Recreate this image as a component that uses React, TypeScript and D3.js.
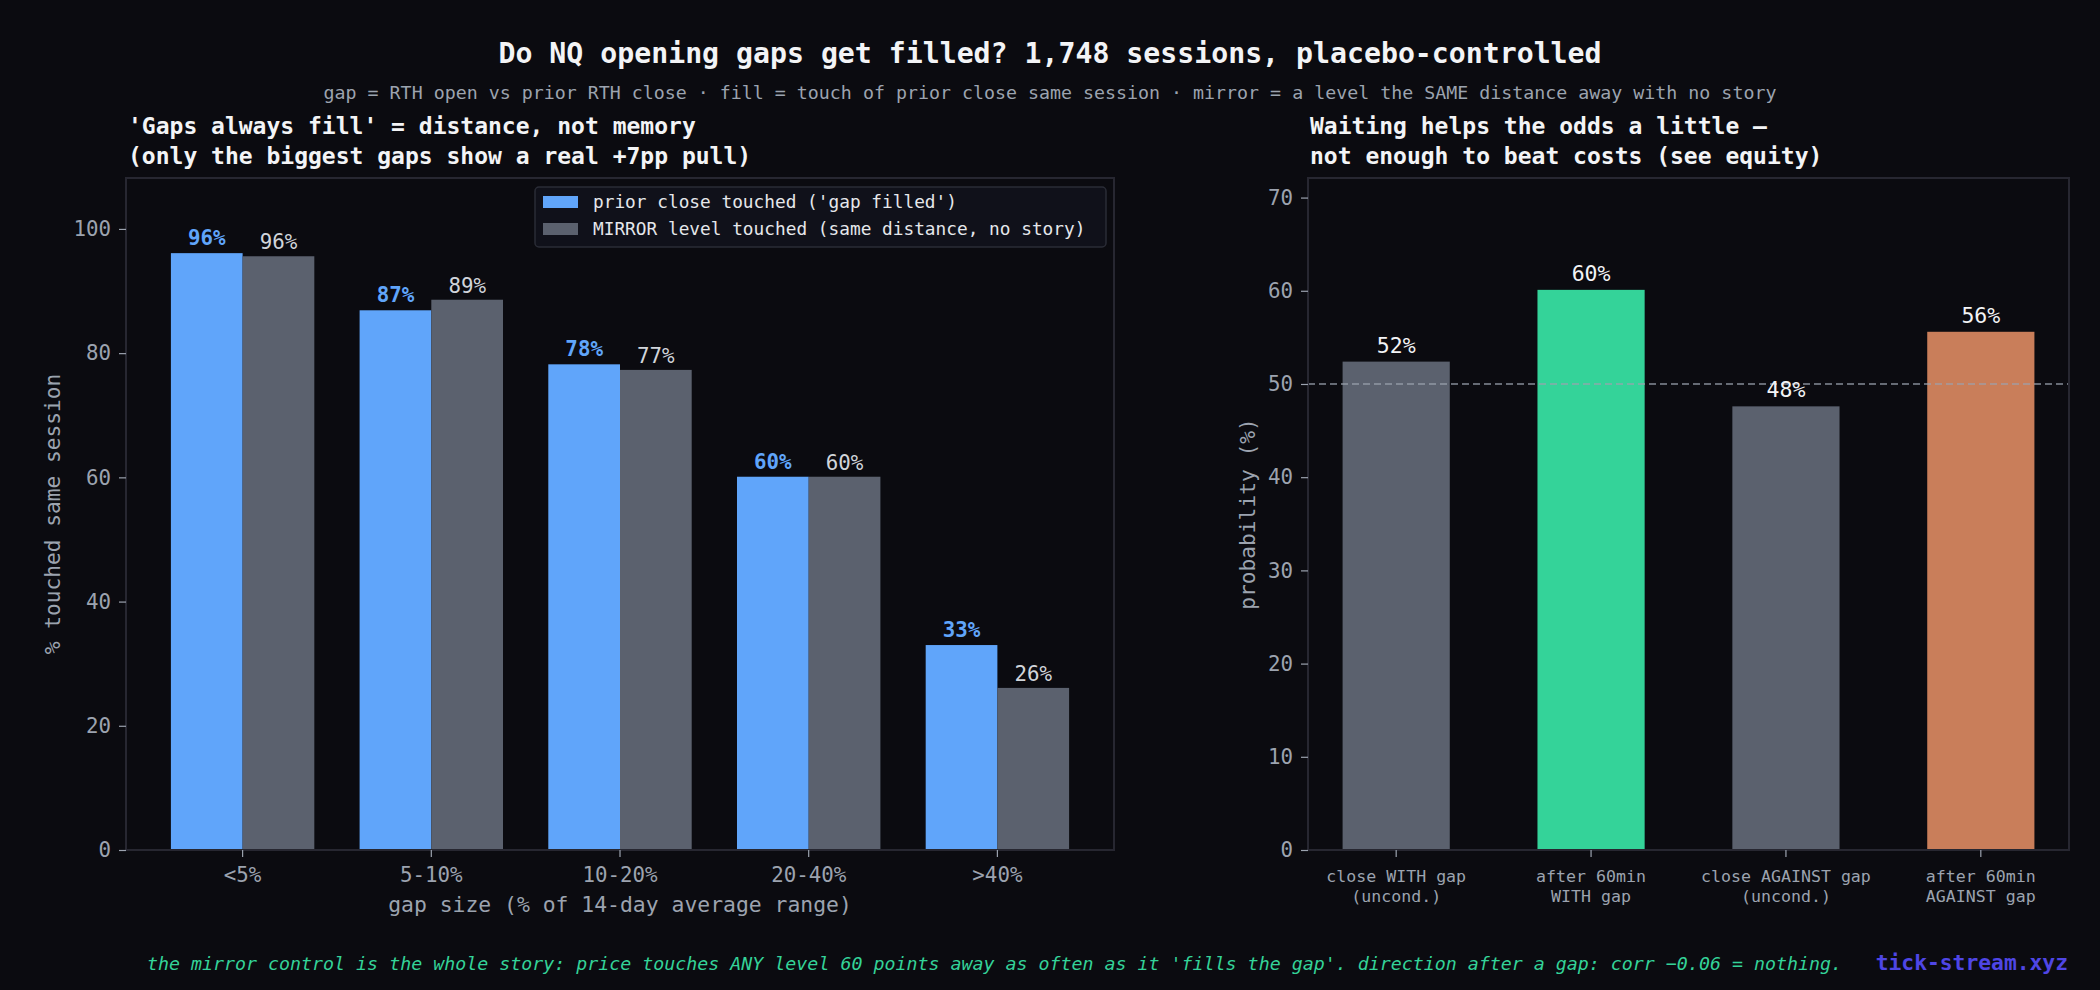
import { useEffect, useRef } from 'react';
import * as d3 from 'd3';

const gapBuckets = ['<5%', '5-10%', '10-20%', '20-40%', '>40%'];
const priorClose = [96.1, 86.9, 78.2, 60.1, 33.0];
const mirrorLevel = [95.6, 88.6, 77.3, 60.1, 26.1];
const leftTicks = [0, 20, 40, 60, 80, 100];

const dirLabels = [
  ['close WITH gap', '(uncond.)'],
  ['after 60min', 'WITH gap'],
  ['close AGAINST gap', '(uncond.)'],
  ['after 60min', 'AGAINST gap'],
];
const dirValues = [52.4, 60.1, 47.6, 55.6];
const dirColors = ['#5b616e', '#34d399', '#5b616e', '#c97e5a'];
const rightTicks = [0, 10, 20, 30, 40, 50, 60, 70];

const FONT = "'DejaVu Sans Mono', monospace";
const BG = '#0b0b10';
const BLUE = '#60a5fa';
const GRAY = '#5b616e';
const SPINE = '#272731';
const TICK = '#9ca3af';

export default function App() {
  const svgRef = useRef<SVGSVGElement>(null);

  useEffect(() => {
    document.body.style.margin = '0';
    document.body.style.background = BG;

    const width = 2100;
    const height = 990;
    const svg = d3.select(svgRef.current);
    svg.selectAll('*').remove();
    svg.attr('font-family', FONT);

    svg.append('rect').attr('width', width).attr('height', height).attr('fill', BG);

    // figure titles
    svg
      .append('text')
      .attr('x', 1050)
      .attr('y', 63)
      .attr('text-anchor', 'middle')
      .attr('font-size', 28.2)
      .attr('font-weight', 'bold')
      .attr('fill', '#f3f4f6')
      .text('Do NQ opening gaps get filled? 1,748 sessions, placebo-controlled');

    svg
      .append('text')
      .attr('x', 1050)
      .attr('y', 99)
      .attr('text-anchor', 'middle')
      .attr('font-size', 18.3)
      .attr('fill', '#9ca3af')
      .text(
        'gap = RTH open vs prior RTH close · fill = touch of prior close same session · mirror = a level the SAME distance away with no story'
      );

    // ---------- left panel ----------
    const L = { left: 126, right: 1114, top: 178, bottom: 850 };

    const x0 = d3
      .scaleBand()
      .domain(gapBuckets)
      .range([L.left, L.right])
      .paddingInner(0.24)
      .paddingOuter(0.238);
    const x1 = d3.scaleBand().domain(['prior', 'mirror']).range([0, x0.bandwidth()]);
    const yL = d3.scaleLinear().domain([0, 108.2]).range([L.bottom, L.top]);

    const left = svg.append('g');

    left
      .selectAll('text.ptitle')
      .data(["'Gaps always fill' = distance, not memory", '(only the biggest gaps show a real +7pp pull)'])
      .enter()
      .append('text')
      .attr('x', L.left + 2)
      .attr('y', (_, i) => 134 + i * 30)
      .attr('font-size', 23)
      .attr('font-weight', 'bold')
      .attr('fill', '#f3f4f6')
      .text(d => d);

    // Bars
    left
      .selectAll('rect.prior')
      .data(priorClose)
      .enter()
      .append('rect')
      .attr('x', (_, i) => x0(gapBuckets[i])! + x1('prior')!)
      .attr('y', d => yL(d))
      .attr('width', x1.bandwidth())
      .attr('height', d => yL(0) - yL(d))
      .attr('fill', BLUE);

    left
      .selectAll('rect.mirror')
      .data(mirrorLevel)
      .enter()
      .append('rect')
      .attr('x', (_, i) => x0(gapBuckets[i])! + x1('mirror')!)
      .attr('y', d => yL(d))
      .attr('width', x1.bandwidth())
      .attr('height', d => yL(0) - yL(d))
      .attr('fill', GRAY);

    // Bar labels
    left
      .selectAll('text.lp')
      .data(priorClose)
      .enter()
      .append('text')
      .attr('x', (_, i) => x0(gapBuckets[i])! + x1('prior')! + x1.bandwidth() / 2)
      .attr('y', d => yL(d) - 8)
      .attr('text-anchor', 'middle')
      .attr('font-size', 20.8)
      .attr('font-weight', 'bold')
      .attr('fill', BLUE)
      .text(d => `${Math.round(d)}%`);

    left
      .selectAll('text.lm')
      .data(mirrorLevel)
      .enter()
      .append('text')
      .attr('x', (_, i) => x0(gapBuckets[i])! + x1('mirror')! + x1.bandwidth() / 2)
      .attr('y', d => yL(d) - 7)
      .attr('text-anchor', 'middle')
      .attr('font-size', 20.8)
      .attr('fill', '#d1d5db')
      .text(d => `${Math.round(d)}%`);

    // Frame
    left
      .append('rect')
      .attr('x', L.left)
      .attr('y', L.top)
      .attr('width', L.right - L.left)
      .attr('height', L.bottom - L.top)
      .attr('fill', 'none')
      .attr('stroke', SPINE)
      .attr('stroke-width', 2);

    // Axes
    const axL = left
      .append('g')
      .attr('transform', `translate(${L.left},0)`)
      .call(d3.axisLeft(yL).tickValues(leftTicks).tickSize(7).tickPadding(8));
    const axB = left
      .append('g')
      .attr('transform', `translate(0,${L.bottom})`)
      .call(d3.axisBottom(x0).tickSize(7).tickPadding(10));
    [axL, axB].forEach(ax => {
      ax.select('.domain').remove();
      ax.selectAll('line').attr('stroke', TICK).attr('stroke-width', 1.2);
      ax.selectAll('text').attr('fill', TICK).attr('font-size', 20.8).attr('font-family', FONT);
    });

    left
      .append('text')
      .attr('x', (L.left + L.right) / 2)
      .attr('y', 912)
      .attr('text-anchor', 'middle')
      .attr('font-size', 21.4)
      .attr('fill', TICK)
      .text('gap size (% of 14-day average range)');

    left
      .append('text')
      .attr('transform', `translate(53,${(L.top + L.bottom) / 2}) rotate(-90)`)
      .attr('text-anchor', 'middle')
      .attr('dy', '0.35em')
      .attr('font-size', 21.2)
      .attr('fill', TICK)
      .text('% touched same session');

    // Legend
    const legend = left.append('g');
    legend
      .append('rect')
      .attr('x', 535)
      .attr('y', 187)
      .attr('width', 571)
      .attr('height', 60)
      .attr('rx', 4)
      .attr('fill', '#10111a')
      .attr('stroke', '#2a2c36')
      .attr('stroke-width', 1.5);
    const legendItems = [
      { label: "prior close touched ('gap filled')", color: BLUE },
      { label: 'MIRROR level touched (same distance, no story)', color: GRAY },
    ];
    legendItems.forEach((d, i) => {
      legend
        .append('rect')
        .attr('x', 543)
        .attr('y', 196 + i * 27)
        .attr('width', 35)
        .attr('height', 12)
        .attr('fill', d.color);
      legend
        .append('text')
        .attr('x', 593)
        .attr('y', 202 + i * 27)
        .attr('dy', '0.35em')
        .attr('font-size', 17.8)
        .attr('fill', '#e5e7eb')
        .text(d.label);
    });

    // ---------- right panel ----------
    const R = { left: 1308, right: 2069, top: 178, bottom: 850 };
    const xR = d3
      .scaleBand()
      .domain(d3.range(dirValues.length).map(String))
      .range([R.left, R.right])
      .paddingInner(0.45)
      .paddingOuter(0.1775);
    const yR = d3.scaleLinear().domain([0, 72.1]).range([R.bottom, R.top]);

    const right = svg.append('g');

    right
      .selectAll('text.ptitle')
      .data(['Waiting helps the odds a little —', 'not enough to beat costs (see equity)'])
      .enter()
      .append('text')
      .attr('x', R.left + 2)
      .attr('y', (_, i) => 134 + i * 30)
      .attr('font-size', 23)
      .attr('font-weight', 'bold')
      .attr('fill', '#f3f4f6')
      .text(d => d);

    right
      .selectAll('rect.bar')
      .data(dirValues)
      .enter()
      .append('rect')
      .attr('x', (_, i) => xR(String(i))!)
      .attr('y', d => yR(d))
      .attr('width', xR.bandwidth())
      .attr('height', d => yR(0) - yR(d))
      .attr('fill', (_, i) => dirColors[i]);

    // 50% reference line
    right
      .append('line')
      .attr('x1', R.left)
      .attr('x2', R.right)
      .attr('y1', yR(50))
      .attr('y2', yR(50))
      .attr('stroke', '#9ca3af')
      .attr('stroke-width', 1.5)
      .attr('stroke-dasharray', '7,4')
      .attr('opacity', 0.85);

    right
      .selectAll('text.val')
      .data(dirValues)
      .enter()
      .append('text')
      .attr('x', (_, i) => xR(String(i))! + xR.bandwidth() / 2)
      .attr('y', d => yR(d) - 9)
      .attr('text-anchor', 'middle')
      .attr('font-size', 21.5)
      .attr('fill', '#f3f4f6')
      .text(d => `${Math.round(d)}%`);

    right
      .append('rect')
      .attr('x', R.left)
      .attr('y', R.top)
      .attr('width', R.right - R.left)
      .attr('height', R.bottom - R.top)
      .attr('fill', 'none')
      .attr('stroke', SPINE)
      .attr('stroke-width', 2);

    const axR = right
      .append('g')
      .attr('transform', `translate(${R.left},0)`)
      .call(d3.axisLeft(yR).tickValues(rightTicks).tickSize(7).tickPadding(8));
    axR.select('.domain').remove();
    axR.selectAll('line').attr('stroke', TICK).attr('stroke-width', 1.2);
    axR.selectAll('text').attr('fill', TICK).attr('font-size', 20.8).attr('font-family', FONT);

    const axRB = right
      .append('g')
      .attr('transform', `translate(0,${R.bottom})`)
      .call(d3.axisBottom(xR).tickSize(7).tickFormat(() => ''));
    axRB.select('.domain').remove();
    axRB.selectAll('line').attr('stroke', TICK).attr('stroke-width', 1.2);

    dirLabels.forEach((lines, i) => {
      const t = right
        .append('text')
        .attr('text-anchor', 'middle')
        .attr('font-size', 16.6)
        .attr('fill', TICK);
      lines.forEach((ln, j) => {
        t.append('tspan')
          .attr('x', xR(String(i))! + xR.bandwidth() / 2)
          .attr('y', 876 + j * 20)
          .attr('dy', '0.35em')
          .text(ln);
      });
    });

    right
      .append('text')
      .attr('transform', `translate(1248,${(R.top + R.bottom) / 2}) rotate(-90)`)
      .attr('text-anchor', 'middle')
      .attr('dy', '0.35em')
      .attr('font-size', 21.2)
      .attr('fill', TICK)
      .text('probability (%)');

    // footer
    svg
      .append('text')
      .attr('x', 147)
      .attr('y', 964)
      .attr('dy', '0.35em')
      .attr('font-size', 18.3)
      .attr('font-style', 'italic')
      .attr('fill', '#34d399')
      .text(
        "the mirror control is the whole story: price touches ANY level 60 points away as often as it 'fills the gap'. direction after a gap: corr −0.06 = nothing."
      );

    svg
      .append('text')
      .attr('x', 2068)
      .attr('y', 970)
      .attr('text-anchor', 'end')
      .attr('font-size', 21.3)
      .attr('font-weight', 'bold')
      .attr('fill', '#4f46e5')
      .text('tick-stream.xyz');
  }, []);

  return <svg ref={svgRef} width={2100} height={990} style={{ display: 'block' }}></svg>;
}
